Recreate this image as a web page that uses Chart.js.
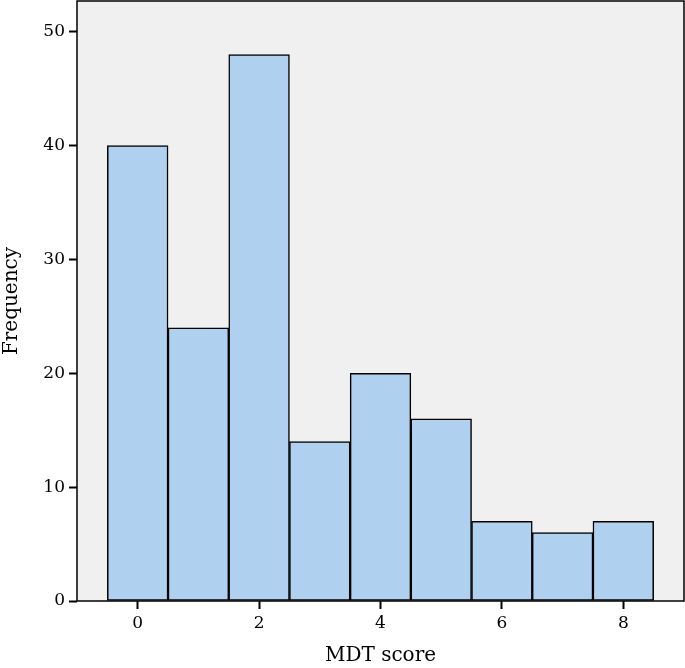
<!DOCTYPE html>
<html>
<head>
<meta charset="utf-8">
<script src="https://cdn.jsdelivr.net/npm/chart.js@4/dist/chart.umd.min.js"></script>
<style>
  html, body { margin: 0; padding: 0; background: #fff; }
  #wrap { width: 685px; height: 668px; }
</style>
</head>
<body>
<div id="wrap"><canvas id="histo"></canvas></div>
<script>
const scores = [0, 1, 2, 3, 4, 5, 6, 7, 8];
const frequency = [40, 24, 48, 14, 20, 16, 7, 6, 7];
const xTicks = [0, 2, 4, 6, 8];
const yTicks = [0, 10, 20, 30, 40, 50];

const serif = "'DejaVu Serif', 'Liberation Serif', serif";

// grey plot background plus the frame round the plot area
const plotFrame = {
    id: "plotFrame",
    beforeDatasetsDraw(chart) {
        const { ctx, chartArea: a } = chart;
        ctx.save();
        ctx.fillStyle = "#f0f0f0";
        ctx.fillRect(a.left, a.top, a.right - a.left, a.bottom - a.top);
        ctx.restore();
    },
    afterDatasetsDraw(chart) {
        const { ctx, chartArea: a } = chart;
        ctx.save();
        ctx.strokeStyle = "#000";
        ctx.lineWidth = 1.5;
        ctx.strokeRect(a.left, a.top, a.right - a.left, a.bottom - a.top);
        ctx.restore();
    }
};

new Chart(document.getElementById("histo"), {
    type: "bar",
    data: {
        datasets: [{
            data: scores.map((s, i) => ({ x: s, y: frequency[i] })),
            backgroundColor: "#afd0ee",
            borderColor: "#000",
            borderWidth: 1.5,
            borderSkipped: false,
            barPercentage: 1,
            categoryPercentage: 1
        }]
    },
    options: {
        responsive: true,
        maintainAspectRatio: false,
        animation: false,
        layout: { padding: { top: 1, right: 1, left: 0, bottom: 0 } },
        plugins: { legend: { display: false }, tooltip: { enabled: false } },
        scales: {
            x: {
                type: "linear",
                min: -1,
                max: 9,
                offset: false,
                afterBuildTicks: s => { s.ticks = xTicks.map(v => ({ value: v })); },
                afterFit: s => { s.height = 67; s.paddingLeft = 0; s.paddingRight = 0; },
                grid: { offset: false, drawOnChartArea: false, drawTicks: true, tickLength: 8, tickColor: "#000", tickWidth: 2 },
                border: { display: false },
                ticks: { color: "#000", font: { family: serif, size: 17 }, padding: 4, maxRotation: 0 },
                title: { display: true, text: "MDT score", color: "#000", font: { family: serif, size: 20 }, padding: { top: 5, bottom: 0 } }
            },
            y: {
                min: 0,
                max: 52.7,
                afterBuildTicks: s => { s.ticks = yTicks.map(v => ({ value: v })); },
                afterFit: s => { s.width = 77; s.paddingTop = 0; s.paddingBottom = 0; },
                grid: { drawOnChartArea: false, drawTicks: true, tickLength: 8, tickColor: "#000", tickWidth: 2 },
                border: { display: false },
                ticks: { color: "#000", font: { family: serif, size: 17 }, padding: 4 },
                title: { display: true, text: "Frequency", color: "#000", font: { family: serif, size: 20 }, padding: { top: 0, bottom: 0 } }
            }
        }
    },
    plugins: [plotFrame]
});
</script>
</body>
</html>
